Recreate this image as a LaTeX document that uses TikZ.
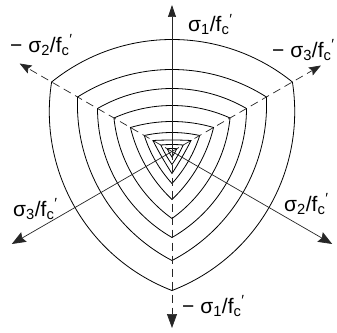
\documentclass[tikz,border=0pt]{standalone}
\usepackage{fontspec}
\setmainfont{Liberation Sans}
\usetikzlibrary{arrows.meta,positioning,calc}

\tikzset{
  axis/.style={line width=0.7pt, draw=black!85},
  posaxis/.style={axis, -{Stealth[length=14pt,width=11pt,inset=2pt]}},
  negaxis/.style={axis, dash pattern=on 8pt off 5pt, -{Stealth[length=12pt,width=9pt,inset=2pt]}},
  section/.style={line width=0.8pt},
  lab/.style={anchor=west, inner sep=0pt, font=\fontsize{21}{21}\selectfont},
}

\newcommand{\fc}{f\textsubscript{c}\textsuperscript{′}}
% one deviatoric section: #1 = tensile radius, #2 = compressive radius
\newcommand{\devsection}[2]{%
  \pgfmathsetmacro{\hh}{#2*sin(60)}%
  \pgfmathsetmacro{\ss}{#1-#2/2}%
  \pgfmathsetmacro{\ph}{2*atan(\ss/\hh)}%
  \pgfmathsetmacro{\rr}{\hh/sin(\ph)}%
  \draw[section] (150:#2) arc[start angle=90+\ph, end angle=90-\ph, radius=\rr pt]
    arc[start angle=330+\ph, end angle=330-\ph, radius=\rr pt]
    arc[start angle=210+\ph, end angle=210-\ph, radius=\rr pt] -- cycle;
}

\begin{document}
\begin{tikzpicture}[x=1pt,y=1pt]
  \useasboundingbox (-172,-180.5) rectangle (165,151.5);
  \coordinate (O) at (0,0);

  % sections, outer to inner
  \devsection{112}{139}
  \devsection{82}{109}
  \devsection{63}{86}
  \devsection{46}{67}
  \devsection{30}{48}
  \devsection{19}{32}
  \devsection{11.5}{22}
  \devsection{7}{13}
  \devsection{3}{5.6}

  % axes
  \coordinate (s1) at (90:146.5);
  \coordinate (m1) at (270:176.5);
  \coordinate (s2) at (330:185);
  \coordinate (m2) at (150:176);
  \coordinate (s3) at (210:185);
  \coordinate (m3) at (30:172);

  \draw[axis, -{Triangle[length=12pt,width=8pt]}] (O) -- (s1);
  \draw[axis, dash pattern=on 8pt off 5pt, -{Triangle[length=14pt,width=10pt]}] (O) -- (m1);
  \draw[posaxis] (O) -- (s2);
  \draw[negaxis] (O) -- (m2);
  \draw[posaxis] (O) -- (s3);
  \draw[negaxis] (O) -- (m3);

  \node[lab] (ls1) at (16,127) {σ\textsubscript{1}/\fc};
  \node[lab] (lm1) at (10,-154.5) {− σ\textsubscript{1}/\fc};
  \node[lab] (ls2) at (112,-52.5) {σ\textsubscript{2}/\fc};
  \node[lab] (lm2) at (-162,106.5) {− σ\textsubscript{2}/\fc};
  \node[lab] (ls3) at (-159,-57.5) {σ\textsubscript{3}/\fc};
  \node[lab] (lm3) at (100,101.5) {− σ\textsubscript{3}/\fc};
\end{tikzpicture}
\end{document}
